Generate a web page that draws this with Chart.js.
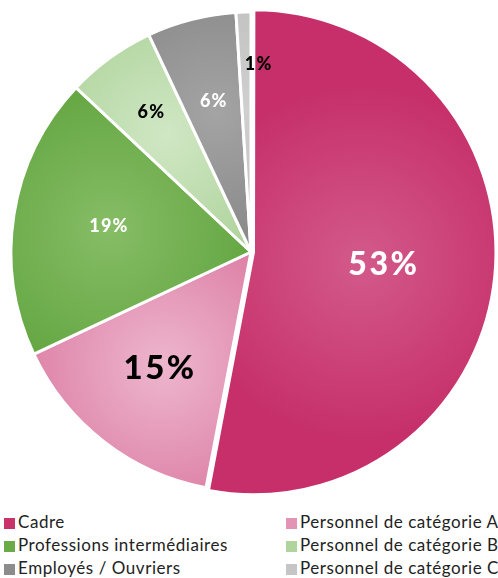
<!DOCTYPE html>
<html>
<head>
<meta charset="utf-8">
<script src="https://cdn.jsdelivr.net/npm/chart.js@4/dist/chart.umd.min.js"></script>
<style>
  html, body { margin: 0; padding: 0; background: #fff; width: 498px; height: 578px; overflow: hidden; }
  #wrap { position: relative; width: 498px; height: 578px; }
  #c { position: absolute; left: 0; top: 0; }
  #legend { position: absolute; left: 0; top: 511px; width: 600px; font-family: Lato, sans-serif; font-size: 17px; letter-spacing: 0.55px; color: #222; }
  .item { position: absolute; white-space: nowrap; line-height: 22px; height: 22px; }
  .box { display: inline-block; width: 11px; height: 11px; margin-right: 3px; vertical-align: -1px; }
</style>
</head>
<body>
<div id="wrap">
  <canvas id="c" width="498" height="505"></canvas>
  <div id="legend"></div>
</div>
<script>
// ---- Data ----
const categories = ["Cadre", "Personnel de catégorie A", "Professions intermédiaires", "Personnel de catégorie B", "Employés / Ouvriers", "Personnel de catégorie C"];
const shares = [53, 15, 19, 6, 6, 1];
const valueLabels = ["53%", "15%", "19%", "6%", "6%", "1%"];

// ---- Styles ----
const lightColors = ["#D35A8B", "#EDB6CD", "#86BD66", "#D0E7C4", "#A4A4A4", "#CFCFCF"];
const darkColors  = ["#C62F69", "#DD80A6", "#65A743", "#ACD299", "#878787", "#BEBEBE"];
const legendColors = ["#C8336C", "#E393B3", "#6AAA47", "#B0D59C", "#8C8C8C", "#C5C5C5"];
const sliceOffsets = [10, 0, 0, 0, 0, 0];
const labelColors = ["#fff", "#000", "#fff", "#000", "#fff", "#000"];
const labelSizes = [32, 33, 18, 18, 18, 18];
const labelSpacing = [2.5, 2.5, 1.2, 1.2, 1.2, 1.2];
const labelRadius = [0.53, 0.62, 0.61, 0.71, 0.65, 0.785];
const labelDx = [0, -1, 2, 0, 1, 13];
const labelDy = [0, -1, -3, -2, 0, 0];
const PIE_RADIUS = 240;

function sliceGradient(ctx) {
  const chart = ctx.chart;
  const area = chart.chartArea;
  const i = ctx.dataIndex;
  if (!area || i === undefined) return darkColors[i || 0];
  const cx = (area.left + area.right) / 2;
  const cy = (area.top + area.bottom) / 2;
  const total = shares.reduce((a, b) => a + b, 0);
  let before = 0;
  for (let k = 0; k < i; k++) before += shares[k];
  const start = -Math.PI / 2 + before / total * 2 * Math.PI;
  const end = start + shares[i] / total * 2 * Math.PI;
  const mid = (start + end) / 2;
  const frac = shares[i] > 40 ? 0.45 : 0.6;
  const gx = cx + Math.cos(mid) * PIE_RADIUS * frac;
  const gy = cy + Math.sin(mid) * PIE_RADIUS * frac;
  const g = chart.ctx.createRadialGradient(gx, gy, 0, gx, gy, PIE_RADIUS * (shares[i] > 40 ? 0.75 : 0.6));
  g.addColorStop(0, lightColors[i]);
  g.addColorStop(1, darkColors[i]);
  return g;
}

const labelPlugin = {
  id: 'sliceLabels',
  afterDatasetsDraw(chart) {
    const meta = chart.getDatasetMeta(0);
    const c = chart.ctx;
    meta.data.forEach((arc, i) => {
      const p = arc.getProps(['x', 'y', 'startAngle', 'endAngle', 'outerRadius'], true);
      const mid = (p.startAngle + p.endAngle) / 2;
      const off = (sliceOffsets[i] || 0) / 2;
      const r = p.outerRadius * labelRadius[i] + off;
      const x = p.x + Math.cos(mid) * r + labelDx[i];
      const y = p.y + Math.sin(mid) * r + labelDy[i];
      c.save();
      c.font = "900 " + labelSizes[i] + "px Lato, sans-serif";
      if ('letterSpacing' in c) c.letterSpacing = labelSpacing[i] + "px";
      c.fillStyle = labelColors[i];
      c.textAlign = "center";
      c.textBaseline = "middle";
      c.fillText(valueLabels[i], x + labelSpacing[i] / 2, y);
      c.restore();
    });
  }
};

new Chart(document.getElementById('c'), {
  type: 'pie',
  data: {
    labels: categories,
    datasets: [{
      data: shares,
      backgroundColor: sliceGradient,
      borderColor: '#ffffff',
      borderWidth: 3,
      offset: sliceOffsets,
      radius: PIE_RADIUS
    }]
  },
  options: {
    responsive: false,
    animation: false,
    layout: { padding: { left: 4, right: 0, top: 0, bottom: 1 } },
    plugins: {
      legend: { display: false },
      tooltip: { enabled: false }
    }
  },
  plugins: [labelPlugin]
});

// HTML legend (two columns)
const legend = document.getElementById('legend');
categories.forEach((name, i) => {
  const col = i % 2, row = Math.floor(i / 2);
  const d = document.createElement('div');
  d.className = 'item';
  d.style.left = (col === 0 ? 4 : 286) + 'px';
  d.style.top = (row * 23) + 'px';
  const b = document.createElement('span');
  b.className = 'box';
  b.style.background = legendColors[i];
  d.appendChild(b);
  d.appendChild(document.createTextNode(name));
  legend.appendChild(d);
});
</script>
</body>
</html>
